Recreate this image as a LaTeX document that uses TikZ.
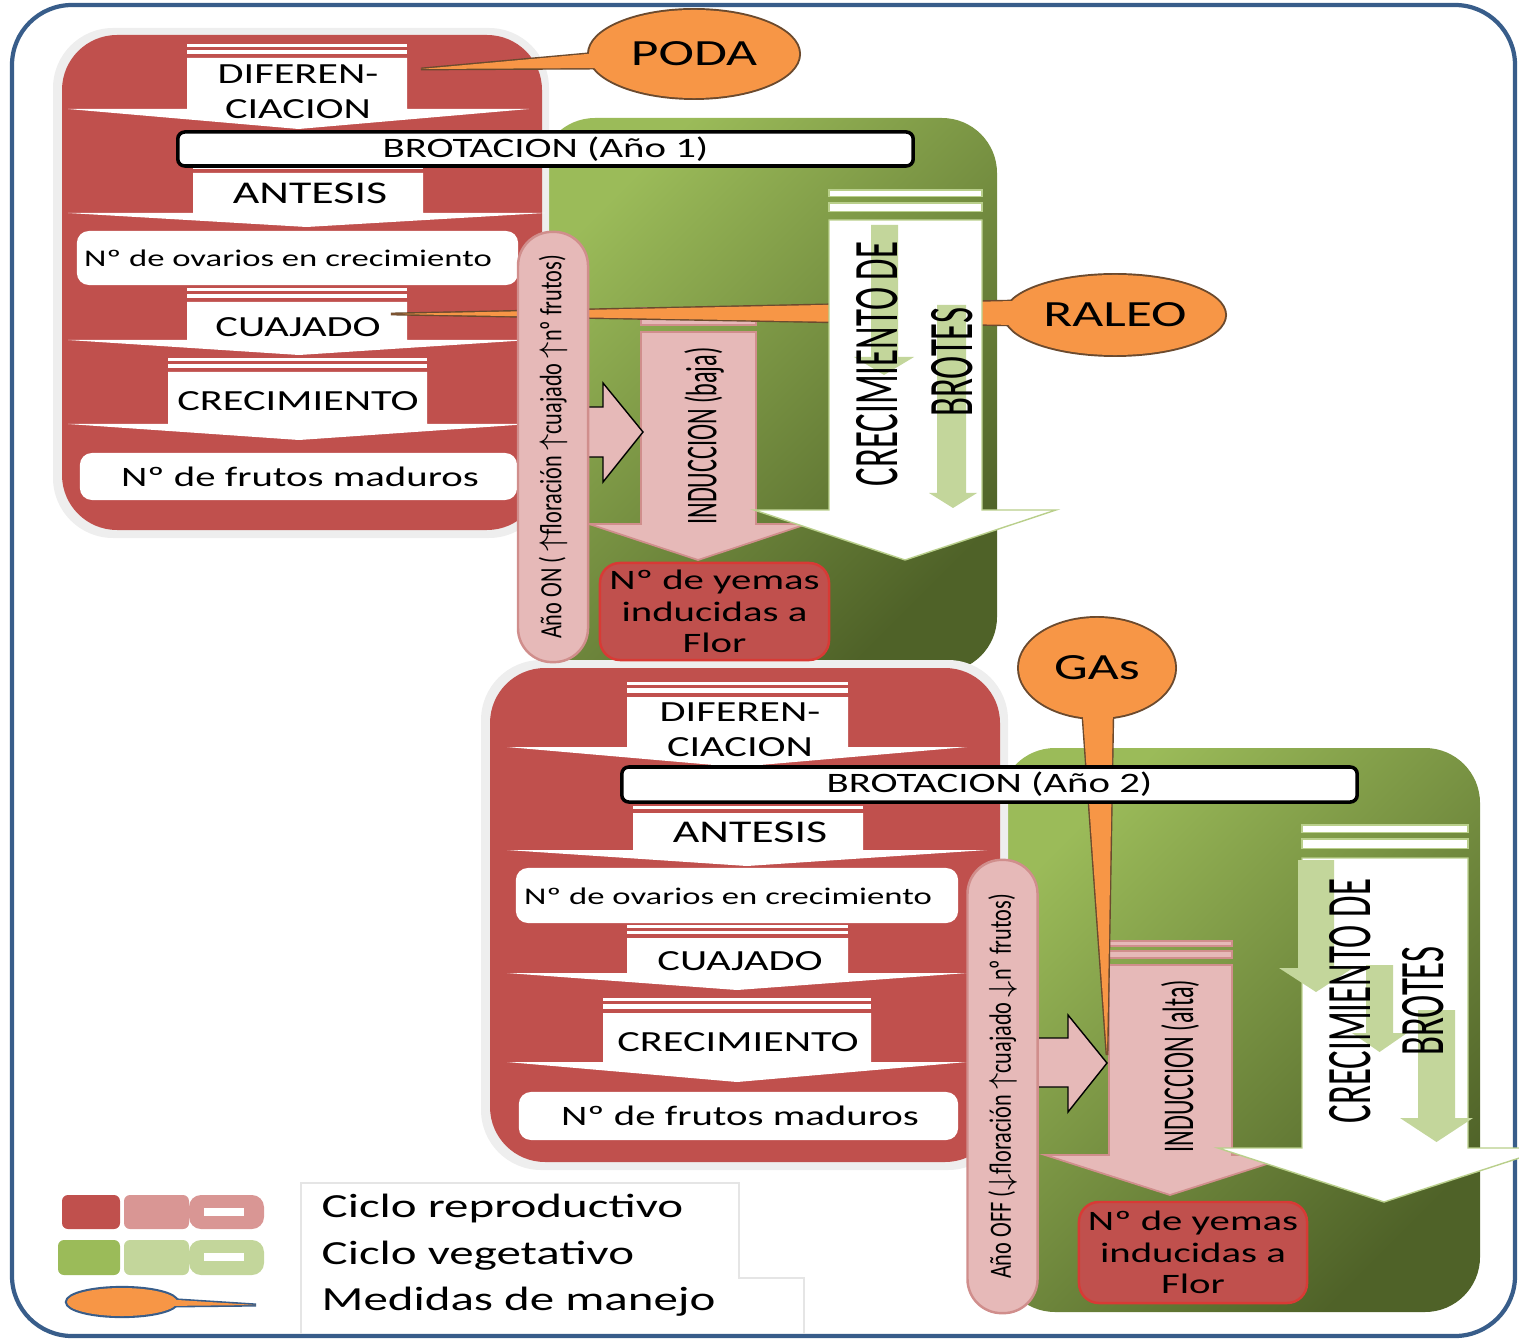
\documentclass[tikz,border=0pt]{standalone}
\usepackage{fontspec}
\setmainfont{Carlito}
\newfontfamily\anchafont[FakeStretch=1.45]{Carlito}
\newfontfamily\estrechafont[FakeStretch=0.55]{Carlito}
\newfontfamily\pildorafont[FakeStretch=0.72]{Carlito}
\usetikzlibrary{shapes.geometric,calc}

\definecolor{rojo}{HTML}{C0504D}
\definecolor{rosa}{HTML}{E6B9B8}
\definecolor{rosaborde}{HTML}{D08E8C}
\definecolor{rosaleyenda}{HTML}{D99694}
\definecolor{yemaborde}{HTML}{D83A35}
\definecolor{verdeclaro}{HTML}{9BBB59}
\definecolor{verdeoscuro}{HTML}{4F6228}
\definecolor{verdepalido}{HTML}{C3D69B}
\definecolor{naranja}{HTML}{F79646}
\definecolor{naranjaborde}{HTML}{6B4A2E}
\definecolor{marco}{HTML}{385D8A}

% flecha hacia abajo con dos franjas: (izq,der,arriba,franjas)(y alas,ala izq,ala der,y punta){estilo}
\def\flechabaja(#1,#2,#3,#4)(#5,#6,#7,#8)#9{%
  \path[#9] (#1,#3) rectangle (#2,{#3+0.22*#4});
  \path[#9] (#1,{#3+0.43*#4}) rectangle (#2,{#3+0.72*#4});
  \path[#9] (#1,{#3+#4}) -- (#2,{#3+#4}) -- (#2,#5) -- (#7,#5)
    -- ({(#6+#7)/2},#8) -- (#6,#5) -- (#1,#5) -- cycle;}
% flecha simple hacia abajo: (izq,der,arriba)(y alas,ala izq,ala der,y punta){estilo}
\def\flechasimple(#1,#2,#3)(#4,#5,#6,#7)#8{%
  \path[#8] (#1,#3) -- (#2,#3) -- (#2,#4) -- (#6,#4)
    -- ({(#5+#6)/2},#7) -- (#5,#4) -- (#1,#4) -- cycle;}

\begin{document}
\begin{tikzpicture}[
    x=0.01cm, y=-0.01cm,
    marco_style/.style={draw=marco, line width=1.2pt, rounded corners=0.6cm},
    sombra_box/.style={fill=gray!13, rounded corners=0.6cm},
    rojo_box/.style={fill=rojo, rounded corners=0.55cm},
    verde_box/.style={rounded corners=0.55cm, top color=verdeclaro, bottom color=verdeoscuro, shading angle=45},
    chevron/.style={fill=white},
    caja_blanca/.style={fill=white, rounded corners=0.12cm, inner sep=0},
    brot_box/.style={fill=white, draw=black, line width=1pt, rounded corners=0.07cm, inner sep=0,
      font=\anchafont\fontsize{8pt}{9pt}\selectfont},
    rosa_flecha/.style={fill=rosa, draw=rosaborde, line width=0.5pt},
    pildora/.style={fill=rosa, draw=rosaborde, line width=0.7pt, rounded corners=0.34cm, inner sep=0},
    flecha_lado/.style={fill=rosa, draw=black, line width=0.4pt},
    yema_box/.style={fill=rojo, draw=yemaborde, line width=0.7pt, rounded corners=0.2cm, inner sep=0,
      align=center, font=\anchafont\fontsize{8pt}{9pt}\selectfont},
    brote_flecha/.style={fill=white, draw=verdeclaro!70, line width=0.4pt},
    palida_flecha/.style={fill=verdepalido},
    cola_borde/.style={draw=naranjaborde, line width=0.8pt},
    cola_relleno/.style={fill=naranja},
    manejo_borde/.style={ellipse, draw=naranjaborde, line width=1.1pt, inner sep=0},
    manejo/.style={ellipse, fill=naranja, inner sep=0, font=\anchafont\fontsize{10.5pt}{12pt}\selectfont},
    chev_text/.style={inner sep=0, align=center, font=\anchafont\fontsize{8.3pt}{10pt}\selectfont},
    antesis_text/.style={inner sep=0, font=\anchafont\fontsize{9pt}{10pt}\selectfont},
    ovario_text/.style={font=\anchafont\fontsize{6.8pt}{8pt}\selectfont},
    fruto_text/.style={font=\anchafont\fontsize{8pt}{9pt}\selectfont},
    ind_text/.style={inner sep=0, rotate=90, font=\estrechafont\fontsize{12.5pt}{13pt}\selectfont},
    brote_text/.style={inner sep=0, rotate=90, font=\estrechafont\fontsize{18pt}{20pt}\selectfont},
    pil_text/.style={inner sep=0, rotate=90, font=\pildorafont\fontsize{8.8pt}{10pt}\selectfont},
    leyenda_text/.style={inner sep=0, anchor=west, font=\anchafont\fontsize{9.6pt}{11pt}\selectfont}
  ]
  \useasboundingbox (0,0) rectangle (1519,1340);

  % 1. marco exterior
  \draw[marco_style] (12,5) rectangle (1515,1336);

  % 2. fondos verdes (ciclo vegetativo)
  \shade[verde_box] (540,118) rectangle (997,672);
  \shade[verde_box] (1000,748) rectangle (1480,1312);

  % 3. fondos rojos (ciclo reproductivo)
  \fill[sombra_box] (53,28) rectangle (549,538);
  \fill[rojo_box] (62,35) rectangle (542,530);
  \fill[sombra_box] (481,660) rectangle (1008,1170);
  \fill[rojo_box] (490,668) rectangle (1000,1162);

  % 4. etapas del año 1
  \flechabaja(187,407,44,14)(109,68,529,129){chevron}
  \flechabaja(193,423,160,13)(213,68,545,227){chevron}
  \flechabaja(187,407,288,14)(340,68,530,355){chevron}
  \flechabaja(168,427,358,14)(424,68,530,440){chevron}
  \node[caja_blanca, minimum width=4.41cm, minimum height=0.54cm] (ovar1) at (297.5,258) {};
  \node[ovario_text] (ovar1_t) at (288,258) {Nº de ovarios en crecimiento};
  \node[caja_blanca, minimum width=4.37cm, minimum height=0.47cm] (fru1) at (298.5,476.5) {};
  \node[fruto_text] (fru1_t) at (300,477) {Nº de frutos maduros};
  \node[brot_box, minimum width=7.35cm, minimum height=0.34cm] (brot1) at (545.5,149) {BROTACION (Año 1)};
  \node[chev_text] (dif1) at (298,92) {DIFEREN-\\CIACION};
  \node[antesis_text] (ant1) at (310,193) {ANTESIS};
  \node[chev_text] (cuaj1) at (298,327) {CUAJADO};
  \node[chev_text] (crec1) at (298,401) {CRECIMIENTO};

  % 5. induccion y crecimiento de brotes (año 1)
  \flechabaja(641,756,308,24)(524,589,807,560){rosa_flecha}
  \coordinate (raleo_c) at (1115,315);
  \coordinate (raleo_punta) at (391,314);
  \path[cola_borde] ($(raleo_c)+(-100,-14)$) -- (raleo_punta) -- ($(raleo_c)+(-100,10)$) -- cycle;
  \node[manejo_borde, minimum width=2.2cm, minimum height=0.8cm] (raleo_b) at (raleo_c) {};
  \path[cola_relleno] ($(raleo_c)+(-100,-14)$) -- (raleo_punta) -- ($(raleo_c)+(-100,10)$) -- cycle;
  \node[manejo, minimum width=2.2cm, minimum height=0.8cm] (raleo) at (raleo_c) {RALEO};
  \draw[flecha_lado] (580,407) -- (603,407) -- (603,383) -- (643,432) -- (603,482) -- (603,457) -- (580,457);
  \node[pildora, minimum width=0.7cm, minimum height=4.3cm] (pil1) at (553,447) {};
  \node[pil_text] (on1) at (pil1) {Año ON ( $\uparrow$floración $\uparrow$cuajado $\uparrow$nº frutos)};
  \node[yema_box, minimum width=2.29cm, minimum height=0.97cm] (yem1) at (714.5,611.5) {Nº de yemas\\inducidas a\\Flor};
  \flechabaja(829,982,190,30)(510,754,1056,560){brote_flecha}
  \flechasimple(871,898,225)(357,854,914,375){palida_flecha}
  \flechasimple(937,966,305)(493,929,977,508){palida_flecha}
  \node[ind_text] (ind1) at (704,436) {INDUCCION (baja)};
  \node[brote_text] (cdb1) at (877,364) {CRECIMIENTO DE};
  \node[brote_text] (bro1) at (952,362) {BROTES};

  % 6. poda
  \coordinate (poda_c) at (694,54);
  \coordinate (poda_punta) at (421,69);
  \path[cola_borde] ($(poda_c)+(-85,-2)$) -- (poda_punta) -- ($(poda_c)+(-85,14)$) -- cycle;
  \node[manejo_borde, minimum width=2.1cm, minimum height=0.88cm] (poda_b) at (poda_c) {};
  \path[cola_relleno] ($(poda_c)+(-85,-2)$) -- (poda_punta) -- ($(poda_c)+(-85,14)$) -- cycle;
  \node[manejo, minimum width=2.1cm, minimum height=0.88cm] (poda) at (poda_c) {PODA};

  % 7. etapas del año 2
  \flechabaja(627,848,682,15)(747,507,967,767){chevron}
  \flechabaja(633,863,800,13)(850,507,987,866){chevron}
  \flechabaja(627,848,925,13)(973,507,967,990){chevron}
  \flechabaja(603,871,998,15)(1062,507,967,1082){chevron}
  \node[caja_blanca, minimum width=4.42cm, minimum height=0.55cm] (ovar2) at (737,895.5) {};
  \node[ovario_text] (ovar2_t) at (728,896) {Nº de ovarios en crecimiento};
  \node[caja_blanca, minimum width=4.39cm, minimum height=0.48cm] (fru2) at (738.5,1116) {};
  \node[fruto_text] (fru2_t) at (740,1116) {Nº de frutos maduros};
  \node[chev_text] (dif2) at (740,730) {DIFEREN-\\CIACION};
  \node[antesis_text] (ant2) at (750,832) {ANTESIS};
  \node[chev_text] (cuaj2) at (740,961) {CUAJADO};
  \node[chev_text] (crec2) at (738,1042) {CRECIMIENTO};

  % 8. induccion y crecimiento de brotes (año 2)
  \flechabaja(1109,1232,941,24)(1155,1045,1295,1195){rosa_flecha}
  \draw[flecha_lado] (1030,1038) -- (1068,1038) -- (1068,1015) -- (1107,1063) -- (1068,1112) -- (1068,1087) -- (1030,1087);
  \node[pildora, minimum width=0.7cm, minimum height=4.53cm] (pil2) at (1002.5,1086.5) {};
  \node[pil_text] (off2) at (pil2) {Año OFF ($\downarrow$floración $\uparrow$cuajado $\downarrow$nº frutos)};
  \node[yema_box, minimum width=2.28cm, minimum height=1.01cm] (yem2) at (1193,1252.5) {Nº de yemas\\inducidas a\\Flor};
  \flechabaja(1302,1468,825,33)(1148,1218,1550,1202){brote_flecha}
  \flechasimple(1298,1334,860)(968,1279,1353,992){palida_flecha}
  \flechasimple(1366,1393,965)(1033,1352,1407,1052){palida_flecha}
  \flechasimple(1418,1455,1010)(1118,1400,1473,1142){palida_flecha}
  \node[ind_text] (ind2) at (1180,1066) {INDUCCION (alta)};
  \node[brote_text] (cdb2) at (1350,1001) {CRECIMIENTO DE};
  \node[brote_text] (bro2) at (1423,1001) {BROTES};

  % 9. GAs
  \coordinate (gas_c) at (1097,668);
  \coordinate (gas_punta) at (1107,1055);
  \path[cola_borde] ($(gas_c)+(-15,35)$) -- (gas_punta) -- ($(gas_c)+(16,35)$) -- cycle;
  \node[manejo_borde, minimum width=1.56cm, minimum height=1.0cm] (gas_b) at (gas_c) {};
  \path[cola_relleno] ($(gas_c)+(-15,35)$) -- (gas_punta) -- ($(gas_c)+(16,35)$) -- cycle;
  \node[manejo, minimum width=1.56cm, minimum height=1.0cm] (gas) at (gas_c) {GAs};
  \node[brot_box, minimum width=7.35cm, minimum height=0.35cm] (brot2) at (989.5,784.5) {BROTACION (Año 2)};

  % 10. leyenda
  \draw[gray!20] (301,1334) -- (301,1183) -- (739,1183) -- (739,1278) -- (804,1278) -- (804,1334);
  \fill[rojo, rounded corners=0.06cm] (62,1195) rectangle (120,1229);
  \fill[rosaleyenda, rounded corners=0.06cm] (124,1195) rectangle (189,1229);
  \fill[rosaleyenda, rounded corners=0.12cm] (189,1195) rectangle (264,1229);
  \fill[white] (204,1208) rectangle (244,1216);
  \fill[verdeclaro, rounded corners=0.06cm] (58,1240) rectangle (120,1275);
  \fill[verdepalido, rounded corners=0.06cm] (124,1240) rectangle (189,1275);
  \fill[verdepalido, rounded corners=0.12cm] (189,1240) rectangle (264,1275);
  \fill[white] (204,1253) rectangle (244,1261);
  \coordinate (ley_c) at (122,1302);
  \coordinate (ley_punta) at (256,1305);
  \path[draw=marco, line width=0.9pt] ($(ley_c)+(40,-3)$) -- (ley_punta) -- ($(ley_c)+(40,4)$) -- cycle;
  \node[ellipse, draw=marco, line width=1.2pt, inner sep=0, minimum width=1.1cm, minimum height=0.28cm] (ley_b) at (ley_c) {};
  \path[cola_relleno] ($(ley_c)+(40,-3)$) -- (ley_punta) -- ($(ley_c)+(40,4)$) -- cycle;
  \node[ellipse, fill=naranja, inner sep=0, minimum width=1.1cm, minimum height=0.28cm] (ley) at (ley_c) {};
  \node[leyenda_text] (rep) at (321,1208) {Ciclo reproductivo};
  \node[leyenda_text] (veg) at (321,1256) {Ciclo vegetativo};
  \node[leyenda_text] (man) at (321,1302) {Medidas de manejo};

\end{tikzpicture}
\end{document}
